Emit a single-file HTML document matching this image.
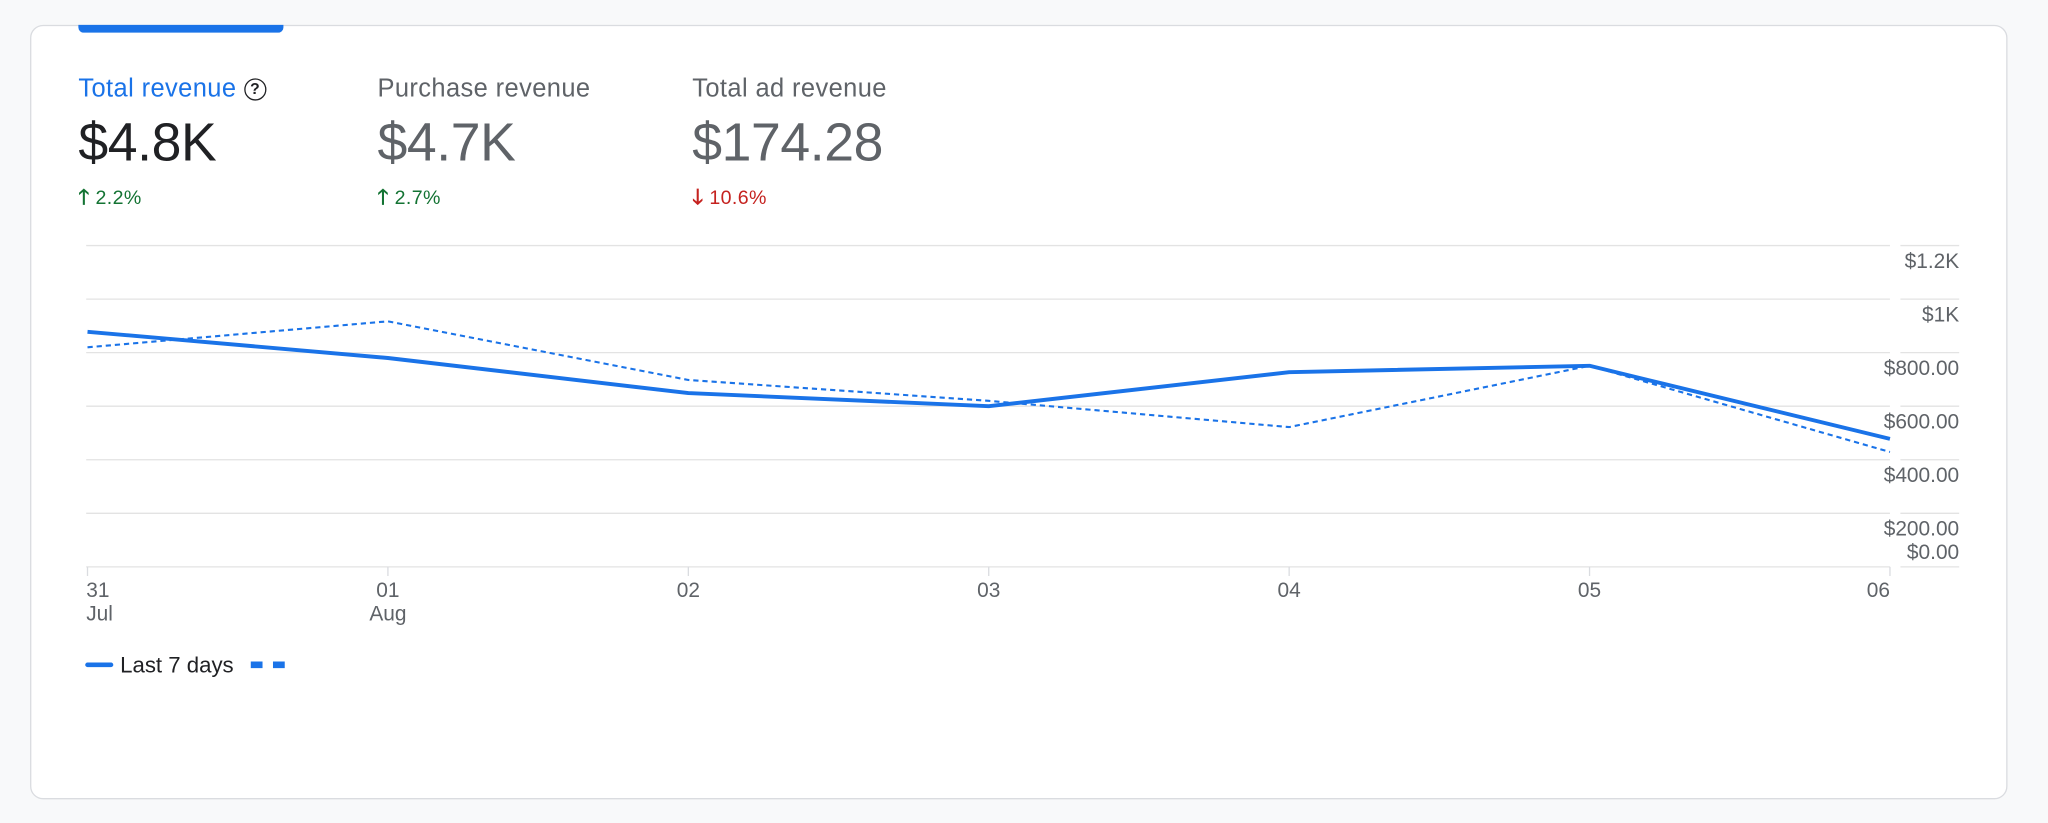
<!DOCTYPE html>
<html><head><meta charset="utf-8">
<style>
html,body{margin:0;padding:0;width:2048px;height:823px;overflow:hidden;background:#f8f9fa;font-family:"Liberation Sans",Arial,sans-serif;}
#wrap{position:absolute;left:0;top:0;width:1568px;height:630px;transform:scale(1.30612);transform-origin:0 0;}
.card{position:absolute;left:23px;top:19px;width:1512px;height:591px;background:#fff;border:1px solid #dadce0;border-radius:10px;}
.tab{position:absolute;left:60px;top:19px;width:157px;height:6px;background:#1a73e8;border-radius:0 0 4px 4px;}
.m{position:absolute;top:57px;}
.lbl{font-size:19.5px;color:#5f6368;white-space:nowrap;letter-spacing:0.3px;}
.val{font-size:41px;color:#5f6368;margin-top:6px;letter-spacing:-0.3px;}
.chg{font-size:15px;margin-top:7px;letter-spacing:0.3px;}
.chg b{font-size:16px;}
svg{position:absolute;left:0;top:0;}
</style></head><body>
<div id="wrap">
<div class="card"></div>
<div class="tab"></div>
<div class="m" style="left:60px">
 <div class="lbl" style="color:#1a73e8">Total revenue <span style="display:inline-block;width:15px;height:15px;border:1.6px solid #202124;border-radius:50%;font-size:12px;line-height:15px;text-align:center;color:#202124;vertical-align:2px;font-weight:bold;letter-spacing:0">?</span></div>
 <div class="val" style="color:#202124">$4.8K</div>
 <div class="chg" style="color:#137333"><b>🡑</b> 2.2%</div>
</div>
<div class="m" style="left:289px">
 <div class="lbl">Purchase revenue</div>
 <div class="val">$4.7K</div>
 <div class="chg" style="color:#137333"><b>🡑</b> 2.7%</div>
</div>
<div class="m" style="left:530px">
 <div class="lbl">Total ad revenue</div>
 <div class="val">$174.28</div>
 <div class="chg" style="color:#c5221f"><b>🡓</b> 10.6%</div>
</div>
<svg id="chart" width="1568" height="630"></svg>
</div>
<script>
const days=["31","01","02","03","04","05","06"];
const months=["Jul","Aug","","","","",""];
const current=[878,780,649,600,727,751,478];
const previous=[820,917,698,620,522,751,429];
const yTicks=[0,200,400,600,800,1000,1200];
const yLabels=["$0.00","$200.00","$400.00","$600.00","$800.00","$1K","$1.2K"];
const NS="http://www.w3.org/2000/svg";
const svg=document.getElementById('chart');
const x0=67,x1=1447,yb=434,yt=188,ymax=1200;
function xs(i){return x0+i*(x1-x0)/(days.length-1);}
function ys(v){return yb-v*(yb-yt)/ymax;}
function mk(t,a){const e=document.createElementNS(NS,t);for(const k in a)e.setAttribute(k,a[k]);svg.appendChild(e);return e;}
yTicks.forEach((v,i)=>{
 const g=mk('line',{x1:66,x2:1447,y1:ys(v),y2:ys(v),stroke:'#e3e3e3','stroke-width':1});
 
 
 const g2=mk('line',{x1:1455,x2:1500,y1:ys(v),y2:ys(v),stroke:'#e3e3e3','stroke-width':1});
 
 
 const t=mk('text',{x:1500,y:(v===0?ys(v)-6:ys(v)+17),'text-anchor':'end','font-size':16,fill:'#5f6368'});
 t.textContent=yLabels[i];
 
 
});
days.forEach((d,i)=>{
 const x=xs(i);
 const tk=mk('line',{x1:x,x2:x,y1:yb,y2:yb+7,stroke:'#dadce0'});
 
 
 const anchor=i===0?'start':(i===days.length-1?'end':'middle');
 const t=mk('text',{x:i===0?x-1:x,y:457,'text-anchor':anchor,'font-size':16,fill:'#5f6368'});
 t.textContent=d;
 
 
 if(months[i]){const m=mk('text',{x:i===0?x-1:x,y:475,'text-anchor':anchor,'font-size':16,fill:'#5f6368'});m.textContent=months[i];
 
 }
});
const pp=mk('polyline',{points:previous.map((v,i)=>xs(i)+','+ys(v)).join(' '),fill:'none',stroke:'#1a73e8','stroke-width':1.6,'stroke-dasharray':'4 3'});


const cp=mk('polyline',{points:current.map((v,i)=>xs(i)+','+ys(v)).join(' '),fill:'none',stroke:'#1a73e8','stroke-width':3,'stroke-linejoin':'round'});


const l1=mk('line',{x1:67,x2:85,y1:509,y2:509,stroke:'#1a73e8','stroke-width':3.5,'stroke-linecap':'round'});


const lt=mk('text',{x:92,y:515,'font-size':17,fill:'#202124'});lt.textContent='Last 7 days';


const l2=mk('line',{x1:192,x2:218,y1:509,y2:509,stroke:'#1a73e8','stroke-width':5,'stroke-dasharray':'9 8'});


</script>
</body></html>
